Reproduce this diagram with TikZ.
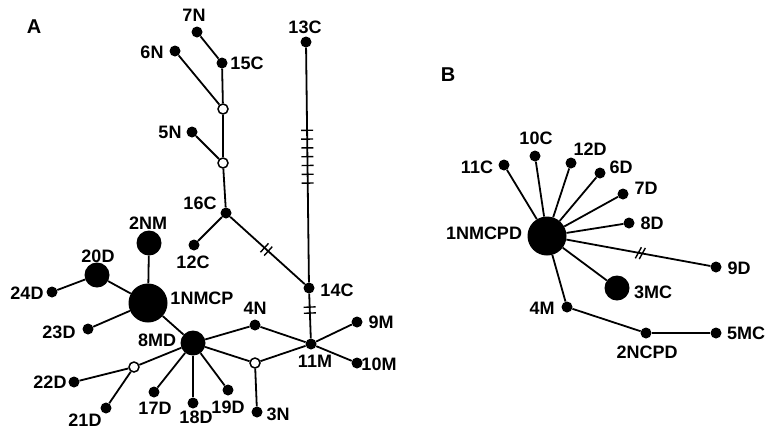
\documentclass[tikz,border=0pt]{standalone}
\usepackage{fontspec}
\setmainfont{Liberation Sans}
\usetikzlibrary{decorations.markings}

\begin{document}
\begin{tikzpicture}[x=1pt, y=-1pt,
            dot/.style={circle, fill=black, inner sep=0pt, minimum size=11pt},
            bigdot/.style={circle, fill=black, inner sep=0pt, minimum size=25pt},
            hugedot/.style={circle, fill=black, inner sep=0pt, minimum size=39pt},
            hollow/.style={circle, draw=black, fill=white, line width=1.5pt, inner sep=0pt, minimum size=10pt},
            lbl/.style={font=\fontsize{18}{20}\selectfont\bfseries, inner sep=0pt},
            panel/.style={font=\fontsize{20}{22}\selectfont\bfseries, inner sep=0pt},
            link/.style={line width=1.8pt},
            ticks/.style n args={3}{postaction={decorate, decoration={markings,
                mark=between positions #1 and #2 step #3 with {\draw[line width=1.4pt] (0,-6pt) -- (0,6pt);}}}},
            slashes/.style n args={3}{postaction={decorate, decoration={markings,
                mark=between positions #1 and #2 step #3 with {\draw[line width=1.4pt] (-2pt,-6pt) -- (2pt,6pt);}}}}]
            \useasboundingbox (0,0) rectangle (767,432);

            \node[panel] (labA) at (34,27) {A};
            \node[panel] (labB) at (448,75) {B};

            \node[dot] (n7N) at (197,32) {};
            \node[dot] (n15C) at (222,63) {};
            \node[dot] (n6N) at (175,51) {};
            \node[hollow] (o1) at (223,109) {};
            \node[dot] (n5N) at (192,132) {};
            \node[hollow] (o2) at (223,163) {};
            \node[dot] (n16C) at (226,213) {};
            \node[dot] (n12C) at (194,245) {};
            \node[dot] (n13C) at (306,42) {};
            \node[dot] (n14C) at (309,288) {};
            \node[dot] (n11M) at (311,344) {};
            \node[dot] (n9M) at (357,322) {};
            \node[dot] (n10M) at (357,363) {};
            \node[dot] (n4N) at (255,325) {};
            \node[hollow] (o3) at (255,363) {};
            \node[dot] (n3N) at (257,412) {};
            \node[bigdot] (n2NM) at (149,243) {};
            \node[bigdot] (n20D) at (97,275) {};
            \node[dot] (n24D) at (52,292) {};
            \node[hugedot] (n1NMCP) at (148,303) {};
            \node[dot] (n23D) at (88,329) {};
            \node[bigdot] (n8MD) at (193,343) {};
            \node[hollow] (o4) at (134,367) {};
            \node[dot] (n22D) at (74,382) {};
            \node[dot] (n21D) at (106,408) {};
            \node[dot] (n17D) at (154,392) {};
            \node[dot] (n18D) at (193,403) {};
            \node[dot] (n19D) at (228,390) {};

            \node[lbl] (t7N) at (194,15) {7N};
            \node[lbl] (t6N) at (152,52) {6N};
            \node[lbl] (t15C) at (247,63) {15C};
            \node[lbl] (t5N) at (170,132) {5N};
            \node[lbl] (t16C) at (200,203) {16C};
            \node[lbl] (t13C) at (305,27) {13C};
            \node[lbl] (t2NM) at (148,223) {2NM};
            \node[lbl] (t20D) at (98,256) {20D};
            \node[lbl] (t24D) at (27,293) {24D};
            \node[lbl] (t12C) at (193,262) {12C};
            \node[lbl] (t1NMCP) at (202,298) {1NMCP};
            \node[lbl] (t14C) at (337,290) {14C};
            \node[lbl] (t4N) at (255,308) {4N};
            \node[lbl] (t9M) at (381,322) {9M};
            \node[lbl] (t23D) at (59,332) {23D};
            \node[lbl] (t8MD) at (157,340) {8MD};
            \node[lbl] (t11M) at (315,361) {11M};
            \node[lbl] (t10M) at (379,364) {10M};
            \node[lbl] (t22D) at (50,382) {22D};
            \node[lbl] (t17D) at (155,408) {17D};
            \node[lbl] (t19D) at (228,407) {19D};
            \node[lbl] (t18D) at (196,417) {18D};
            \node[lbl] (t21D) at (85,420) {21D};
            \node[lbl] (t3N) at (278,414) {3N};

            \draw[link] (n7N) -- (n15C);
            \draw[link] (n15C) -- (o1);
            \draw[link] (n6N) -- (o1);
            \draw[link] (o1) -- (o2);
            \draw[link] (n5N) -- (o2);
            \draw[link] (o2) -- (n16C);
            \draw[link] (n16C) -- (n12C);
            \draw[link, ticks={0.46}{0.55}{5pt}] (n16C) -- (n14C);
            \draw[link, ticks={0.352}{0.59}{8.8pt}] (n13C) -- (n14C);
            \draw[link, ticks={0.30}{0.45}{6pt}] (n14C) -- (n11M);
            \draw[link] (n11M) -- (n9M);
            \draw[link] (n11M) -- (n10M);
            \draw[link] (n4N) -- (n11M);
            \draw[link] (n8MD) -- (n4N);
            \draw[link] (n8MD) -- (o3);
            \draw[link] (o3) -- (n11M);
            \draw[link] (o3) -- (n3N);
            \draw[link] (n1NMCP) -- (n2NM);
            \draw[link] (n1NMCP) -- (n20D);
            \draw[link] (n20D) -- (n24D);
            \draw[link] (n1NMCP) -- (n23D);
            \draw[link] (n1NMCP) -- (n8MD);
            \draw[link] (n8MD) -- (o4);
            \draw[link] (o4) -- (n22D);
            \draw[link] (o4) -- (n21D);
            \draw[link] (n8MD) -- (n17D);
            \draw[link] (n8MD) -- (n18D);
            \draw[link] (n8MD) -- (n19D);

            \node[hugedot] (n1NMCPD) at (547,236) {};
            \node[dot] (n11C) at (504,165) {};
            \node[dot] (n10C) at (535,156) {};
            \node[dot] (n12D) at (571,163) {};
            \node[dot] (n6D) at (600,173) {};
            \node[dot] (n7D) at (623,194) {};
            \node[dot] (n8D) at (629,223) {};
            \node[dot] (n9D) at (716,267) {};
            \node[bigdot] (n3MC) at (617,288) {};
            \node[dot] (n4M) at (567,307) {};
            \node[dot] (n2NCPD) at (646,333) {};
            \node[dot] (n5MC) at (716,333) {};

            \node[lbl] (t1NMCPD) at (484,233) {1NMCPD};
            \node[lbl] (t11C) at (477,167) {11C};
            \node[lbl] (t10C) at (536,138) {10C};
            \node[lbl] (t12D) at (590,149) {12D};
            \node[lbl] (t6D) at (621,167) {6D};
            \node[lbl] (t7D) at (646,188) {7D};
            \node[lbl] (t8D) at (652,223) {8D};
            \node[lbl] (t9D) at (739,268) {9D};
            \node[lbl] (t3MC) at (653,292) {3MC};
            \node[lbl] (t4M) at (542,308) {4M};
            \node[lbl] (t2NCPD) at (647,352) {2NCPD};
            \node[lbl] (t5MC) at (746,333) {5MC};

            \draw[link] (n1NMCPD) -- (n11C);
            \draw[link] (n1NMCPD) -- (n10C);
            \draw[link] (n1NMCPD) -- (n12D);
            \draw[link] (n1NMCPD) -- (n6D);
            \draw[link] (n1NMCPD) -- (n7D);
            \draw[link] (n1NMCPD) -- (n8D);
            \draw[link, slashes={0.50}{0.55}{4pt}] (n1NMCPD) -- (n9D);
            \draw[link] (n1NMCPD) -- (n3MC);
            \draw[link] (n1NMCPD) -- (n4M);
            \draw[link] (n4M) -- (n2NCPD);
            \draw[link] (n2NCPD) -- (n5MC);
        \end{tikzpicture}
\end{document}
